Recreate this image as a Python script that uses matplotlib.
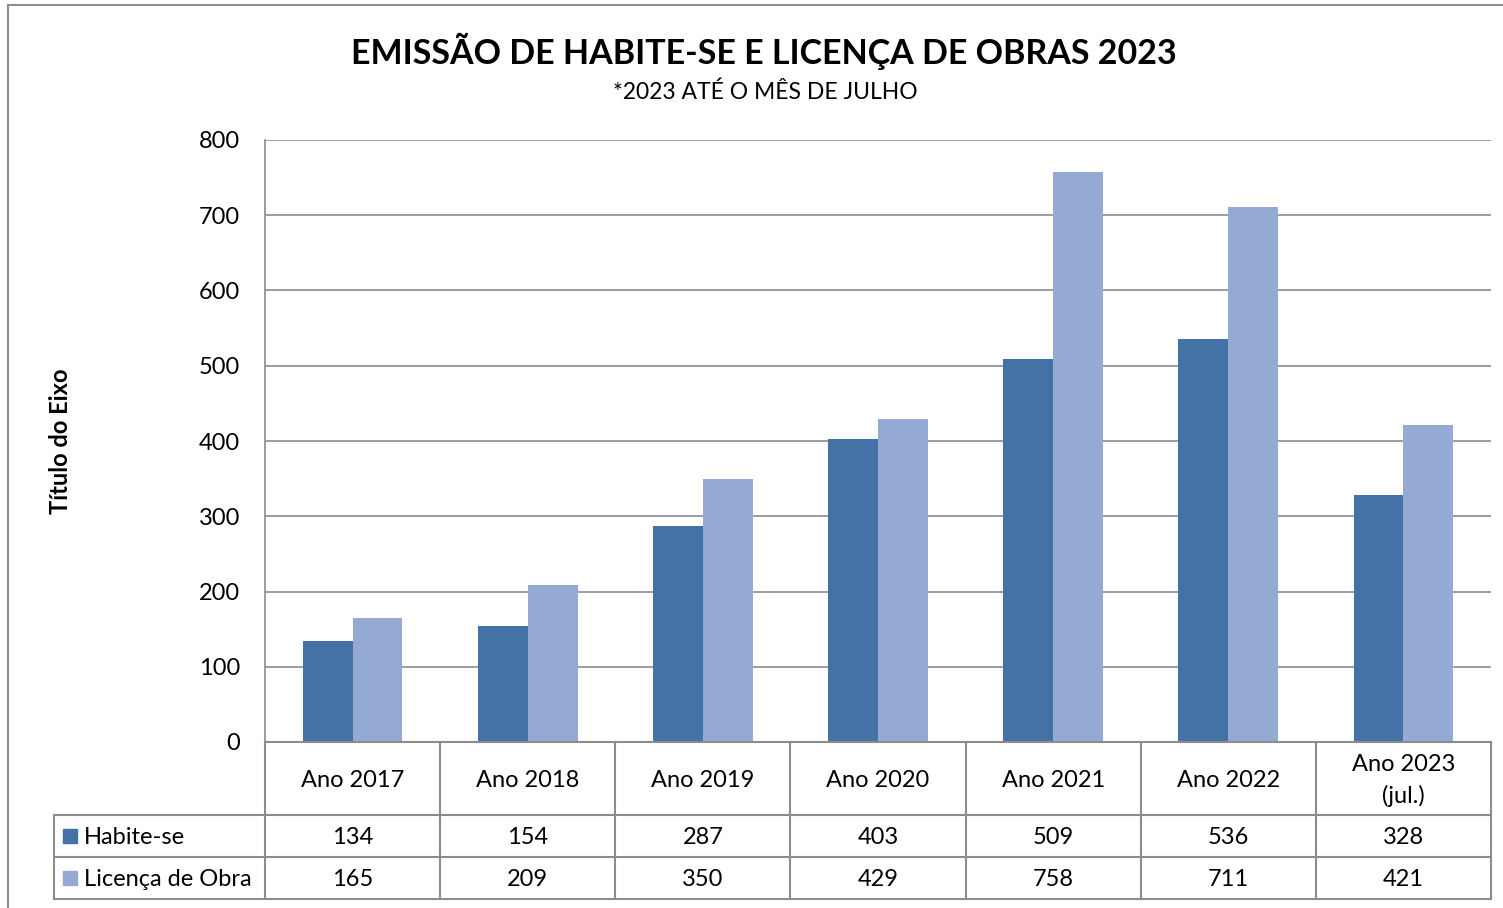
import numpy as np
import matplotlib.pyplot as plt
import matplotlib.transforms as mtransforms
from matplotlib.lines import Line2D
from matplotlib.patches import Rectangle

plt.rcParams['font.family'] = ['Lato', 'DejaVu Sans']

categories = ['Ano 2017', 'Ano 2018', 'Ano 2019', 'Ano 2020', 'Ano 2021', 'Ano 2022', 'Ano 2023\n(jul.)']
habite = [134, 154, 287, 403, 509, 536, 328]
licenca = [165, 209, 350, 429, 758, 711, 421]
series_names = ['Habite-se', 'Licença de Obra']

dark = '#4472A7'
light = '#95AAD3'
grid_c = '#8C8C8C'
fs = 17

W, H = 1503, 908
fig = plt.figure(figsize=(W / 100, H / 100), dpi=100)

def fx(px):
    return px / W

def fy(py):
    return 1 - py / H

# plot area in pixels
left, right, top, bottom = 265, 1491, 140, 742
ax = fig.add_axes([fx(left), fy(bottom), fx(right) - fx(left), fy(top) - fy(bottom)])

n = len(categories)
ind = np.arange(n)
width = 0.285
ax.bar(ind - width / 2, habite, width, color=dark, zorder=3)
ax.bar(ind + width / 2, licenca, width, color=light, zorder=3)

ax.set_xlim(-0.5, n - 0.5)
ax.set_ylim(0, 800)
ax.set_yticks(range(0, 801, 100))
ax.set_xticks([])
ax.tick_params(axis='y', length=0, pad=18, labelsize=fs)
ax.grid(axis='y', color=grid_c, linewidth=1.2, zorder=0)
for s in ['top', 'right', 'bottom']:
    ax.spines[s].set_visible(False)
ax.spines['left'].set_color(grid_c)
ax.spines['left'].set_linewidth(1.2)

# outer chart border
fig.add_artist(Line2D([fx(8), fx(8)], [fy(5), 0], color=grid_c, linewidth=1.5))
fig.add_artist(Line2D([fx(8), 1], [fy(5), fy(5)], color=grid_c, linewidth=1.5))

# data table
trans = mtransforms.blended_transform_factory(ax.transData, fig.transFigure)
row_y = [742, 815, 857, 899]
tbl_left = 54
for i, y in enumerate(row_y):
    x0 = left if i == 0 else tbl_left
    fig.add_artist(Line2D([fx(x0), fx(right)], [fy(y), fy(y)], color=grid_c, linewidth=1.5))
fig.add_artist(Line2D([fx(tbl_left), fx(tbl_left)], [fy(815), fy(899)], color=grid_c, linewidth=1.5))
for k in range(n + 1):
    fig.add_artist(Line2D([k - 0.5, k - 0.5], [fy(742), fy(899)], transform=trans,
                          color=grid_c, linewidth=1.5))

for k in range(n):
    ax.text(k, fy((742 + 815) / 2 + 2), categories[k], transform=trans, ha='center', va='center',
            fontsize=fs, linespacing=1.5)
    ax.text(k, fy((815 + 857) / 2 + 2), str(habite[k]), transform=trans, ha='center', va='center',
            fontsize=fs)
    ax.text(k, fy((857 + 899) / 2 + 2), str(licenca[k]), transform=trans, ha='center', va='center',
            fontsize=fs)

for name, c, (y0, y1) in zip(series_names, [dark, light], [(815, 857), (857, 899)]):
    yc = (y0 + y1) / 2
    fig.add_artist(Rectangle((fx(63), fy(yc + 7)), fx(14), 14 / H, color=c))
    fig.text(fx(84), fy(yc + 2), name, ha='left', va='center', fontsize=fs)

# titles
fig.text(fx(764), fy(51), 'EMISSÃO DE HABITE-SE E LICENÇA DE OBRAS 2023', ha='center', va='center',
         fontsize=24.5, fontweight='bold')
fig.text(fx(765), fy(92), '*2023 ATÉ O MÊS DE JULHO', ha='center', va='center', fontsize=16.5)
fig.text(fx(60), fy(441), 'Título do Eixo', ha='center', va='center', rotation=90,
         fontsize=17, fontweight='bold')

fig.savefig('out.png', dpi=100)
